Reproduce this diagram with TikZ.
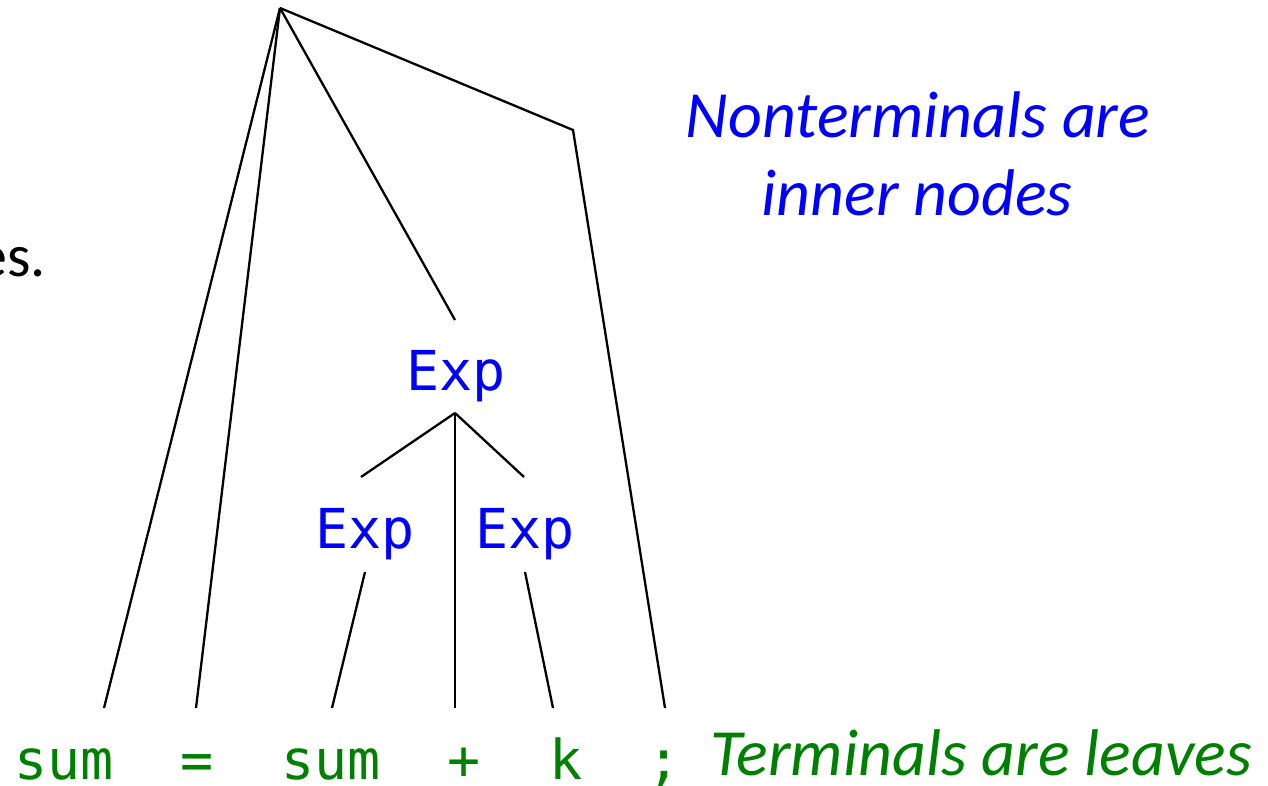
\documentclass[tikz,border=0pt]{standalone}
\usepackage{fontspec}
\setmainfont{Carlito}
\newfontfamily\monof{DejaVu Sans Mono}
\definecolor{ntblue}{RGB}{0,0,255}
\definecolor{tgreen}{RGB}{0,128,0}
\begin{document}
\begin{tikzpicture}[x=0.5pt,y=-0.5pt,
  edge/.style={line width=1.15pt, black},
  nonterm/.style={text=ntblue, font=\monof\fontsize{27.5}{30}\selectfont, anchor=base, inner sep=0pt},
  term/.style={text=tgreen, font=\monof\fontsize{27.5}{30}\selectfont, anchor=base, inner sep=0pt},
  note/.style={font=\itshape\fontsize{33}{38}\selectfont, anchor=base, inner sep=0pt}]
\useasboundingbox (0,0) rectangle (1268,786);
% text nodes
\node[anchor=base east, inner sep=0pt, font=\fontsize{30}{34}\selectfont] (es) at (46,277) {es.};
\node[nonterm] (exp) at (456,390) {Exp};
\node[nonterm] (expl) at (365,548) {Exp};
\node[nonterm] (expr) at (525,548) {Exp};
\node[term] (t1) at (64,779) {sum};
\node[term] (t2) at (197,779) {=};
\node[term] (t3) at (331,779) {sum};
\node[term] (t4) at (464,779) {+};
\node[term] (t5) at (566,779) {k};
\node[term] (t6) at (664,779) {;};
\node[note, text=ntblue] (nt1) at (918,138) {Nonterminals are};
\node[note, text=ntblue] (nt2) at (917,216) {inner nodes};
\node[note, text=tgreen] (tl) at (981,775) {Terminals are leaves};
% connector end points
\coordinate (root) at (280,8);
\coordinate (bend) at (573,130);
\coordinate (e1) at (104,708);
\coordinate (e2) at (196,708);
\coordinate (e3) at (332,708);
\coordinate (e4) at (455,708);
\coordinate (e5) at (553,708);
\coordinate (e6) at (665,708);
\coordinate (expTop) at (455,320);
\coordinate (expBot) at (455,413);
\coordinate (lTop) at (361,477);
\coordinate (rTop) at (524,477);
\coordinate (lBot) at (365,572);
\coordinate (rBot) at (525,572);
% connectors
\draw[edge] (root) -- (e1);
\draw[edge] (root) -- (e2);
\draw[edge] (root) -- (expTop);
\draw[edge] (root) -- (bend) -- (e6);
\draw[edge] (expBot) -- (lTop);
\draw[edge] (expBot) -- (e4);
\draw[edge] (expBot) -- (rTop);
\draw[edge] (lBot) -- (e3);
\draw[edge] (rBot) -- (e5);
\end{tikzpicture}
\end{document}
